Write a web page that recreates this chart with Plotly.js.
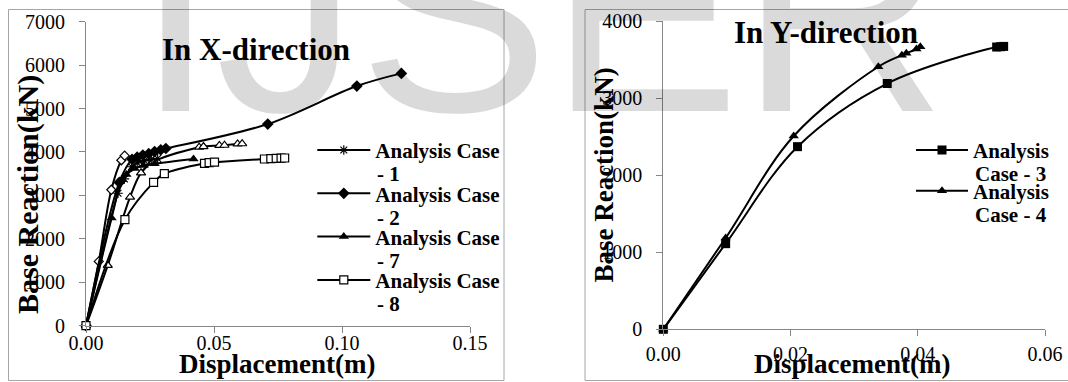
<!DOCTYPE html>
<html><head><meta charset="utf-8">
<script src="https://cdn.plot.ly/plotly-3.0.1.min.js"></script>
<style>html,body{margin:0;padding:0;background:#fff}#chart{width:1068px;height:382px}</style>
</head><body><div id="chart"></div>
<script>
// ---------- X-direction (left chart) ----------
const case1Disp = [0, 0.0125, 0.0150, 0.0178, 0.0200, 0.0228, 0.0255, 0.0280];
const case1Base = [0, 3050, 3380, 3660, 3750, 3800, 3830, 3850];
const case2Disp = [0, 0.0130, 0.0180, 0.0200, 0.0222, 0.0245, 0.0268, 0.0292, 0.0312, 0.0710, 0.1058, 0.1232];
const case2Base = [0, 3300, 3830, 3880, 3930, 3960, 4010, 4050, 4080, 4643, 5518, 5810];
const case7Disp = [0, 0.0100, 0.0140, 0.0158, 0.0190, 0.0225, 0.0268, 0.0420];
const case7Base = [0, 2480, 3360, 3480, 3620, 3690, 3730, 3840];
const case8Disp = [0, 0.0152, 0.0264, 0.0306, 0.0463, 0.0481, 0.0502, 0.0697, 0.0722, 0.0743, 0.0762, 0.0776];
const case8Base = [0, 2441, 3300, 3500, 3740, 3755, 3765, 3838, 3846, 3853, 3858, 3862];
// two further curves drawn in the chart but not listed in its legend
const extraADisp = [0, 0.0050, 0.0099, 0.0138, 0.0151];
const extraABase = [0, 1480, 3130, 3810, 3915];
const extraBDisp = [0, 0.0085, 0.0172, 0.0215, 0.0262, 0.0442, 0.0459, 0.0521, 0.0541, 0.0592, 0.0610];
const extraBBase = [0, 1390, 2960, 3520, 3770, 4110, 4125, 4150, 4155, 4185, 4190];

// ---------- Y-direction (right chart) ----------
const case3Disp = [0, 0.0098, 0.0211, 0.0352, 0.0524, 0.0530, 0.0535];
const case3Base = [0, 1112, 2372, 3192, 3666, 3670, 3674];
const case4Disp = [0, 0.0098, 0.0205, 0.0338, 0.0375, 0.0382, 0.0398, 0.0404];
const case4Base = [0, 1186, 2510, 3410, 3560, 3585, 3640, 3668];

// ---------- text ----------
const titleX = 'In X-direction';
const titleY = 'In Y-direction';
const xTitle = 'Displacement(m)';
const yTitle = 'Base Reaction(kN)';
const leftLegendFirst = 'Analysis Case';
const leftLegendSecond = ['- 1', '- 2', '- 7', '- 8'];
const rightLegendFirst = 'Analysis';
const rightLegendSecond = ['Case - 3', 'Case - 4'];
const watermark = 'IJSER';

const W = 1068, H = 382;
const px = v => v / W;
const py = v => 1 - v / H;
const SERIF = 'Liberation Serif, Times New Roman, serif';
const BLACK = '#000';
const AX = '#868686';

// style: 'filled' black marker, 'hollow' white-filled black-outlined marker, 'star' asterisk
function tr(x, y, xa, ya, sym, style, size, name, group, legend, show) {
  let marker;
  if (style === 'filled') marker = {symbol: sym, size: size, color: BLACK, line: {width: 0}};
  else if (style === 'hollow') marker = {symbol: sym, size: size, color: '#fff', line: {color: BLACK, width: 1.2}};
  else marker = {symbol: sym, size: size, color: BLACK, line: {color: BLACK, width: 1.2}};
  return {
    type: 'scatter', mode: 'lines+markers', x: x, y: y, xaxis: xa, yaxis: ya,
    name: name, legendgroup: group, legend: legend, showlegend: show,
    cliponaxis: false,
    line: {color: BLACK, width: 2, shape: 'spline', smoothing: 1},
    marker: marker
  };
}

const data = [
  tr(extraADisp, extraABase, 'x', 'y', 'diamond', 'hollow', 7, 'Series A', 'ea', 'legend', false),
  tr(extraBDisp, extraBBase, 'x', 'y', 'triangle-up', 'hollow', 8, 'Series B', 'eb', 'legend', false),
  tr(case1Disp, case1Base, 'x', 'y', 'asterisk-open', 'star', 8, leftLegendFirst, 'c1', 'legend', true),
  tr(case2Disp, case2Base, 'x', 'y', 'diamond', 'filled', 9, leftLegendFirst, 'c2', 'legend', true),
  tr(case7Disp, case7Base, 'x', 'y', 'triangle-up', 'filled', 9, leftLegendFirst, 'c7', 'legend', true),
  tr(case8Disp, case8Base, 'x', 'y', 'square', 'hollow', 8, leftLegendFirst, 'c8', 'legend', true),
  tr(case3Disp, case3Base, 'x2', 'y2', 'square', 'filled', 9, rightLegendFirst, 'c3', 'legend2', true),
  tr(case4Disp, case4Base, 'x2', 'y2', 'triangle-up', 'filled', 9, rightLegendFirst, 'c4', 'legend2', true)
];
data[2].legendrank = 1; data[3].legendrank = 2; data[4].legendrank = 3; data[5].legendrank = 4;

const tickFont = {family: SERIF, size: 20, color: BLACK};
function axis(domain, range, dtick, fmt, anchor, standoff) {
  return {
    domain: domain, range: range, dtick: dtick, tick0: 0, tickformat: fmt,
    anchor: anchor, showgrid: false, zeroline: false, showline: true,
    linecolor: AX, linewidth: 1, ticks: 'outside', ticklen: 6, tickcolor: AX,
    tickwidth: 1, tickfont: tickFont, fixedrange: true,
    ticklabelstandoff: standoff
  };
}

const legendFont = {family: SERIF, size: 21, color: BLACK, weight: 'bold'};
const annotations = [];
annotations.push({text: watermark, xref: 'paper', yref: 'paper', x: px(134), xanchor: 'left',
  y: py(12), yanchor: 'middle', showarrow: false,
  font: {family: 'Liberation Sans, Arial, sans-serif', size: 286, color: 'rgba(0,0,0,0.145)'}});
function label(text, x, y, size, angle) {
  annotations.push({text: text, xref: 'paper', yref: 'paper', x: px(x), y: py(y),
    xanchor: 'center', yanchor: 'middle', showarrow: false, textangle: angle || 0,
    font: {family: SERIF, size: size, color: BLACK, weight: 'bold'}});
}
label(titleX, 255.5, 49.5, 31);
label(titleY, 826, 33, 31);
label(xTitle, 276.7, 363.5, 27);
label(xTitle, 852.4, 363.5, 27);
label(yTitle, 28, 195, 30, -90);
label(yTitle, 603.6, 175, 27, -90);
leftLegendSecond.forEach((t, i) => {
  annotations.push({text: t, xref: 'paper', yref: 'paper', x: px(375), xanchor: 'left',
    y: py(174.4 + i * 43.3), yanchor: 'middle', showarrow: false, font: legendFont});
});
rightLegendSecond.forEach((t, i) => {
  annotations.push({text: t, xref: 'paper', yref: 'paper', x: px(973), xanchor: 'left',
    y: py(173.7 + i * 41.7), yanchor: 'middle', showarrow: false, font: legendFont});
});

const layout = {
  width: W, height: H, margin: {l: 0, r: 0, t: 0, b: 0},
  paper_bgcolor: '#fff', plot_bgcolor: 'rgba(0,0,0,0)', hovermode: false,
  xaxis: axis([px(86), px(470)], [0, 0.15], 0.05, '.2f', 'y', -7),
  yaxis: axis([py(325.7), py(21.7)], [0, 7000], 1000, 'd', 'x', 10),
  xaxis2: axis([px(663.3), px(1045)], [0, 0.06], 0.02, '.2f', 'y2', 1),
  yaxis2: axis([py(329.3), py(21.3)], [0, 4000], 1000, 'd', 'x2', 10),
  legend: {x: px(312.3), xanchor: 'left', y: py(129.85), yanchor: 'top',
    bgcolor: 'rgba(0,0,0,0)', borderwidth: 0, font: legendFont,
    itemwidth: 53, tracegroupgap: 13, traceorder: 'grouped'},
  legend2: {x: px(911), xanchor: 'left', y: py(129.85), yanchor: 'top',
    bgcolor: 'rgba(0,0,0,0)', borderwidth: 0, font: legendFont,
    itemwidth: 52, tracegroupgap: 10.4, traceorder: 'grouped'},
  shapes: [
    {type: 'rect', xref: 'paper', yref: 'paper', x0: px(8.5), x1: px(504), y0: py(380.5), y1: py(9.5),
     line: {color: '#a6a6a6', width: 1}, layer: 'below'},
    {type: 'rect', xref: 'paper', yref: 'paper', x0: px(585), x1: px(1080), y0: py(380.5), y1: py(9.5),
     line: {color: '#a6a6a6', width: 1}, layer: 'below'}
  ],
  annotations: annotations
};

Plotly.newPlot('chart', data, layout, {displayModeBar: false, staticPlot: true});
</script></body></html>
